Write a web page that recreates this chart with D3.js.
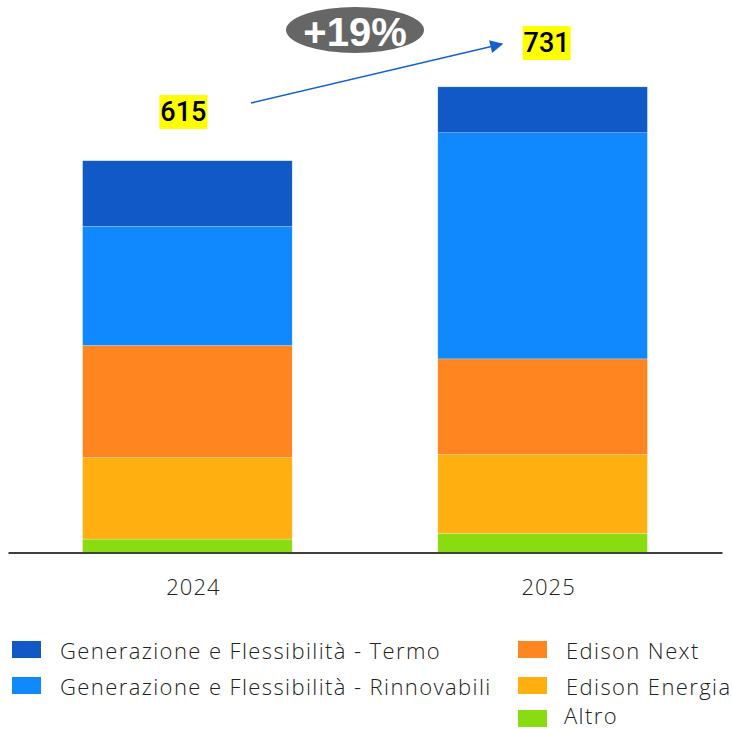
<!DOCTYPE html>
<html>
<head>
<meta charset="utf-8">
<script src="https://cdn.jsdelivr.net/npm/d3@7"></script>
<style>
  html, body { margin: 0; padding: 0; background: #fff; }
  svg { display: block; }
</style>
</head>
<body>
<svg id="chart" width="732" height="729"></svg>
<script>
const years = ["2024", "2025"];
const seriesNames = [
  "Altro",
  "Edison Energia",
  "Edison Next",
  "Generazione e Flessibilità - Rinnovabili",
  "Generazione e Flessibilità - Termo"
];
const altro = [21, 30];
const edisonEnergia = [128, 124];
const edisonNext = [176, 150];
const rinnovabili = [187, 355];
const termo = [103, 72];
const totals = [615, 731];
const growthLabel = "+19%";
const colors = ["#88DC10", "#FFB010", "#FF8520", "#1089FF", "#1059C6"];

const seriesValues = [altro, edisonEnergia, edisonNext, rinnovabili, termo];
const table = years.map((y, i) => {
  const row = { year: y };
  seriesNames.forEach((s, k) => row[s] = seriesValues[k][i]);
  return row;
});

const svg = d3.select("#chart");
const baseY = 552.5;
const x = d3.scaleBand().domain(years).range([8, 722]).paddingInner(0.41).paddingOuter(0.21);
const y = d3.scaleLinear().domain([0, 731]).range([baseY, baseY - 731 * 0.637]);
const color = d3.scaleOrdinal().domain(seriesNames).range(colors);

const stack = d3.stack().keys(seriesNames)(table);

svg.append("g").selectAll("g").data(stack).join("g")
  .attr("fill", d => color(d.key))
  .selectAll("rect").data(d => d).join("rect")
  .attr("x", d => x(d.data.year))
  .attr("width", x.bandwidth())
  .attr("y", d => y(d[1]))
  .attr("height", d => y(d[0]) - y(d[1]))
  .attr("stroke", "rgba(255,255,255,0.35)")
  .attr("stroke-width", 0.6);

// axis
const axis = svg.append("g").attr("transform", `translate(0,${baseY})`)
  .call(d3.axisBottom(x).tickSize(0).tickPadding(27));
axis.select(".domain").attr("stroke", "#404040").attr("stroke-width", 2.2);
axis.selectAll("text")
  .attr("dx", 6)
  .attr("font-family", "'Open Sans', sans-serif")
  .attr("font-weight", 300)
  .attr("font-size", 22)
  .attr("letter-spacing", 1)
  .attr("fill", "#222");

// total labels
const labelPos = [
  { cx: x("2024") + x.bandwidth() / 2 - 4, cy: 112 },
  { cx: x("2025") + x.bandwidth() / 2 + 4, cy: 43 }
];
totals.forEach((t, i) => {
  const g = svg.append("g");
  const txt = g.append("text")
    .attr("x", labelPos[i].cx).attr("y", labelPos[i].cy)
    .attr("text-anchor", "middle").attr("dominant-baseline", "central")
    .attr("font-family", "Roboto, 'Liberation Sans', Arial, sans-serif")
    .attr("font-weight", 500)
    .attr("font-size", 27)
    .attr("fill", "#000")
    .text(t);
  const bb = txt.node().getBBox();
  g.insert("rect", "text")
    .attr("x", bb.x - 1).attr("y", labelPos[i].cy - 17)
    .attr("width", bb.width + 2).attr("height", 34)
    .attr("fill", "#FFFF00");
});

// arrow
const defs = svg.append("defs");
defs.append("marker").attr("id", "ah")
  .attr("viewBox", "0 0 10 10").attr("refX", 9).attr("refY", 5)
  .attr("markerWidth", 15).attr("markerHeight", 13)
  .attr("markerUnits", "userSpaceOnUse")
  .attr("orient", "auto")
  .append("path").attr("d", "M0,0 L10,5 L0,10 Z").attr("fill", "#1560D0");
const arrowStart = [251, 103];
const arrowEnd = [502, 44];
svg.append("line")
  .attr("x1", arrowStart[0]).attr("y1", arrowStart[1])
  .attr("x2", arrowEnd[0]).attr("y2", arrowEnd[1])
  .attr("stroke", "#1560D0").attr("stroke-width", 1.6)
  .attr("marker-end", "url(#ah)");

// growth ellipse
svg.append("ellipse").attr("cx", 355).attr("cy", 30).attr("rx", 69).attr("ry", 23).attr("fill", "#666666");
svg.append("text").attr("x", 355).attr("y", 32)
  .attr("text-anchor", "middle").attr("dominant-baseline", "central")
  .attr("font-family", "'Liberation Sans', Arial, sans-serif")
  .attr("font-weight", "bold").attr("font-size", 40)
  .attr("fill", "#fff").text(growthLabel);

// legend
const legendItems = [
  { name: "Generazione e Flessibilità - Termo", sx: 12, tx: 60, cy: 650, ty: 650 },
  { name: "Generazione e Flessibilità - Rinnovabili", sx: 12, tx: 60, cy: 686, ty: 686 },
  { name: "Edison Next", sx: 518, tx: 566, cy: 650, ty: 650 },
  { name: "Edison Energia", sx: 518, tx: 566, cy: 686, ty: 686 },
  { name: "Altro", sx: 518, tx: 564, cy: 719, ty: 715 }
];
const lg = svg.append("g").selectAll("g").data(legendItems).join("g");
lg.append("rect")
  .attr("x", d => d.sx).attr("y", d => d.cy - 9)
  .attr("width", 29).attr("height", 17)
  .attr("fill", d => color(d.name));
lg.append("text")
  .attr("x", d => d.tx).attr("y", d => d.ty)
  .attr("dominant-baseline", "central")
  .attr("font-family", "'Open Sans', sans-serif")
  .attr("font-weight", 300)
  .attr("font-size", 22)
  .attr("letter-spacing", 1.4)
  .attr("fill", "#222")
  .text(d => d.name);
</script>
</body>
</html>
